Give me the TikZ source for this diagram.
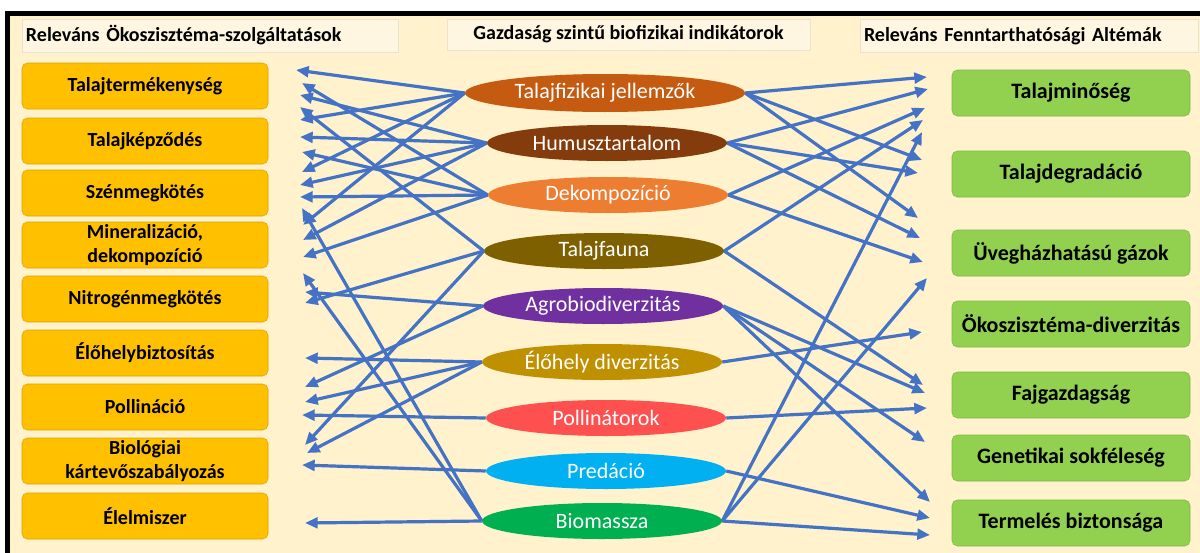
\documentclass[tikz,border=0pt]{standalone}
\usepackage{fontspec}
\setmainfont{Carlito}
\usetikzlibrary{arrows.meta,shapes.geometric,positioning}

\definecolor{cream}{HTML}{FFF2CC}
\definecolor{headfill}{HTML}{FEF6E0}
\definecolor{headline}{HTML}{EAE2CC}
\definecolor{servfill}{HTML}{FFC000}
\definecolor{servline}{HTML}{D9A300}
\definecolor{subfill}{HTML}{92D050}
\definecolor{subline}{HTML}{7DB843}
\definecolor{arrblue}{HTML}{4472C4}
\definecolor{cfiz}{HTML}{C55A11}
\definecolor{chum}{HTML}{843C0C}
\definecolor{cdek}{HTML}{ED7D31}
\definecolor{cfau}{HTML}{7F6000}
\definecolor{cagr}{HTML}{7030A0}
\definecolor{celo}{HTML}{BF9000}
\definecolor{cpol}{HTML}{FF5050}
\definecolor{cpre}{HTML}{00B0F0}
\definecolor{cbio}{HTML}{00B050}

\begin{document}
\begin{tikzpicture}[x=0.75pt,y=-0.75pt,>={Triangle[length=9.5pt,width=8pt]},
  arr/.style={->,draw=arrblue,line width=2.4pt},
  header/.style={draw=headline,fill=headfill,minimum height=24.75pt,inner xsep=3pt,font=\bfseries\fontsize{15}{16}\selectfont},
  service/.style={draw=servline,fill=servfill,rounded corners=4pt,minimum width=184.5pt,minimum height=34.5pt,inner sep=0pt,align=center,font=\bfseries\fontsize{15}{18}\selectfont},
  subtheme/.style={draw=subline,fill=subfill,rounded corners=4pt,minimum width=178.5pt,minimum height=34.5pt,inner sep=0pt,font=\bfseries\fontsize{16.5}{18}\selectfont},
  indicator/.style={ellipse,fill=#1,text=white,minimum width=180pt,minimum height=27pt,inner sep=0pt,font=\fontsize{16.5}{18}\selectfont}]

  % page and frame
  \useasboundingbox (0,0) rectangle (1200,553);
  \fill[white] (0,0) rectangle (1200,553);
  \fill[black] (5,11) rectangle (1200,553);
  \fill[cream] (10,16) rectangle (1200,553);

  % column titles
  \node[header,minimum width=282pt,text width=276pt,align=left] (h1) at (210,35.5) {Releváns Ökoszisztéma-szolgáltatások};
  \node[header,minimum width=272pt,minimum height=23.25pt,align=center] (h2) at (628.5,34.5) {Gazdaság szintű biofizikai indikátorok};
  \node[header,minimum width=253.5pt,text width=247.5pt,align=left] (h3) at (1029,36) {Releváns Fenntarthatósági Altémák};

  % ecosystem services
  \node[service] (termek) at (145,86) {Talajtermékenység};
  \node[service] (kepzod) at (145,141) {Talajképződés};
  \node[service] (szen) at (145,193) {Szénmegkötés};
  \node[service] (miner) at (145,245) {Mineralizáció,\\dekompozíció};
  \node[service] (nitro) at (145,299) {Nitrogénmegkötés};
  \node[service] (elohelyb) at (145,353) {Élőhelybiztosítás};
  \node[service] (pollinacio) at (145,407) {Pollináció};
  \node[service] (kartevo) at (145,461) {Biológiai\\kártevőszabályozás};
  \node[service] (elelm) at (145,516) {Élelmiszer};

  % indicators
  \node[indicator=cfiz,minimum width=210pt,minimum height=28.5pt] (tfiz) at (605,93) {Talajfizikai jellemzők};
  \node[indicator=chum] (humusz) at (607,143) {Humusztartalom};
  \node[indicator=cdek] (deko) at (608,195) {Dekompozíció};
  \node[indicator=cfau] (fauna) at (604,251) {Talajfauna};
  \node[indicator=cagr] (agro) at (603,306) {Agrobiodiverzitás};
  \node[indicator=celo] (elohely) at (602,362) {Élőhely diverzitás};
  \node[indicator=cpol] (pollin) at (606,418) {Pollinátorok};
  \node[indicator=cpre] (preda) at (606,471) {Predáció};
  \node[indicator=cbio] (biom) at (602,521) {Biomassza};

  % sustainability subthemes
  \node[subtheme] (minoseg) at (1071,93) {Talajminőség};
  \node[subtheme] (degrad) at (1071,174) {Talajdegradáció};
  \node[subtheme] (uveg) at (1071,253) {Üvegházhatású gázok};
  \node[subtheme] (okodiv) at (1071,324) {Ökoszisztéma-diverzitás};
  \node[subtheme] (fajgazd) at (1071,395) {Fajgazdagság};
  \node[subtheme] (genet) at (1071,458) {Genetikai sokféleség};
  \node[subtheme] (termbizt) at (1071,523) {Termelés biztonsága};

  % arrows to the services
  \foreach \src/\tx/\ty [count=\i] in {tfiz/296/70, deko/302/83, humusz/300/95, fauna/300/107,
      tfiz/300/120, humusz/300/137, deko/302/152, tfiz/302/172, humusz/300/185, deko/300/197,
      biom/302/208, tfiz/303/225, humusz/303/240, deko/303/257, biom/303/273, agro/305/292,
      fauna/305/303, elohely/305/358, agro/305/387, elohely/305/402, pollin/302/415,
      fauna/305/445, elohely/307/453, preda/302/465, biom/305/523}
  {
    \coordinate (l\i) at (\tx,\ty);
    \draw[arr] (\src.west) -- (l\i);
  }

  % arrows to the subthemes
  \foreach \src/\tx/\ty [count=\i] in {tfiz/927/77, tfiz/922/160, tfiz/918/218, humusz/928/89,
      humusz/918/173, humusz/920/238, deko/925/108, deko/923/262, fauna/923/120, fauna/923/385,
      agro/925/393, agro/925/442, agro/930/502, elohely/922/332, pollin/927/408, preda/930/518,
      biom/922/132, biom/927/278, biom/930/535}
  {
    \coordinate (r\i) at (\tx,\ty);
    \draw[arr] (\src.east) -- (r\i);
  }
\end{tikzpicture}
\end{document}
